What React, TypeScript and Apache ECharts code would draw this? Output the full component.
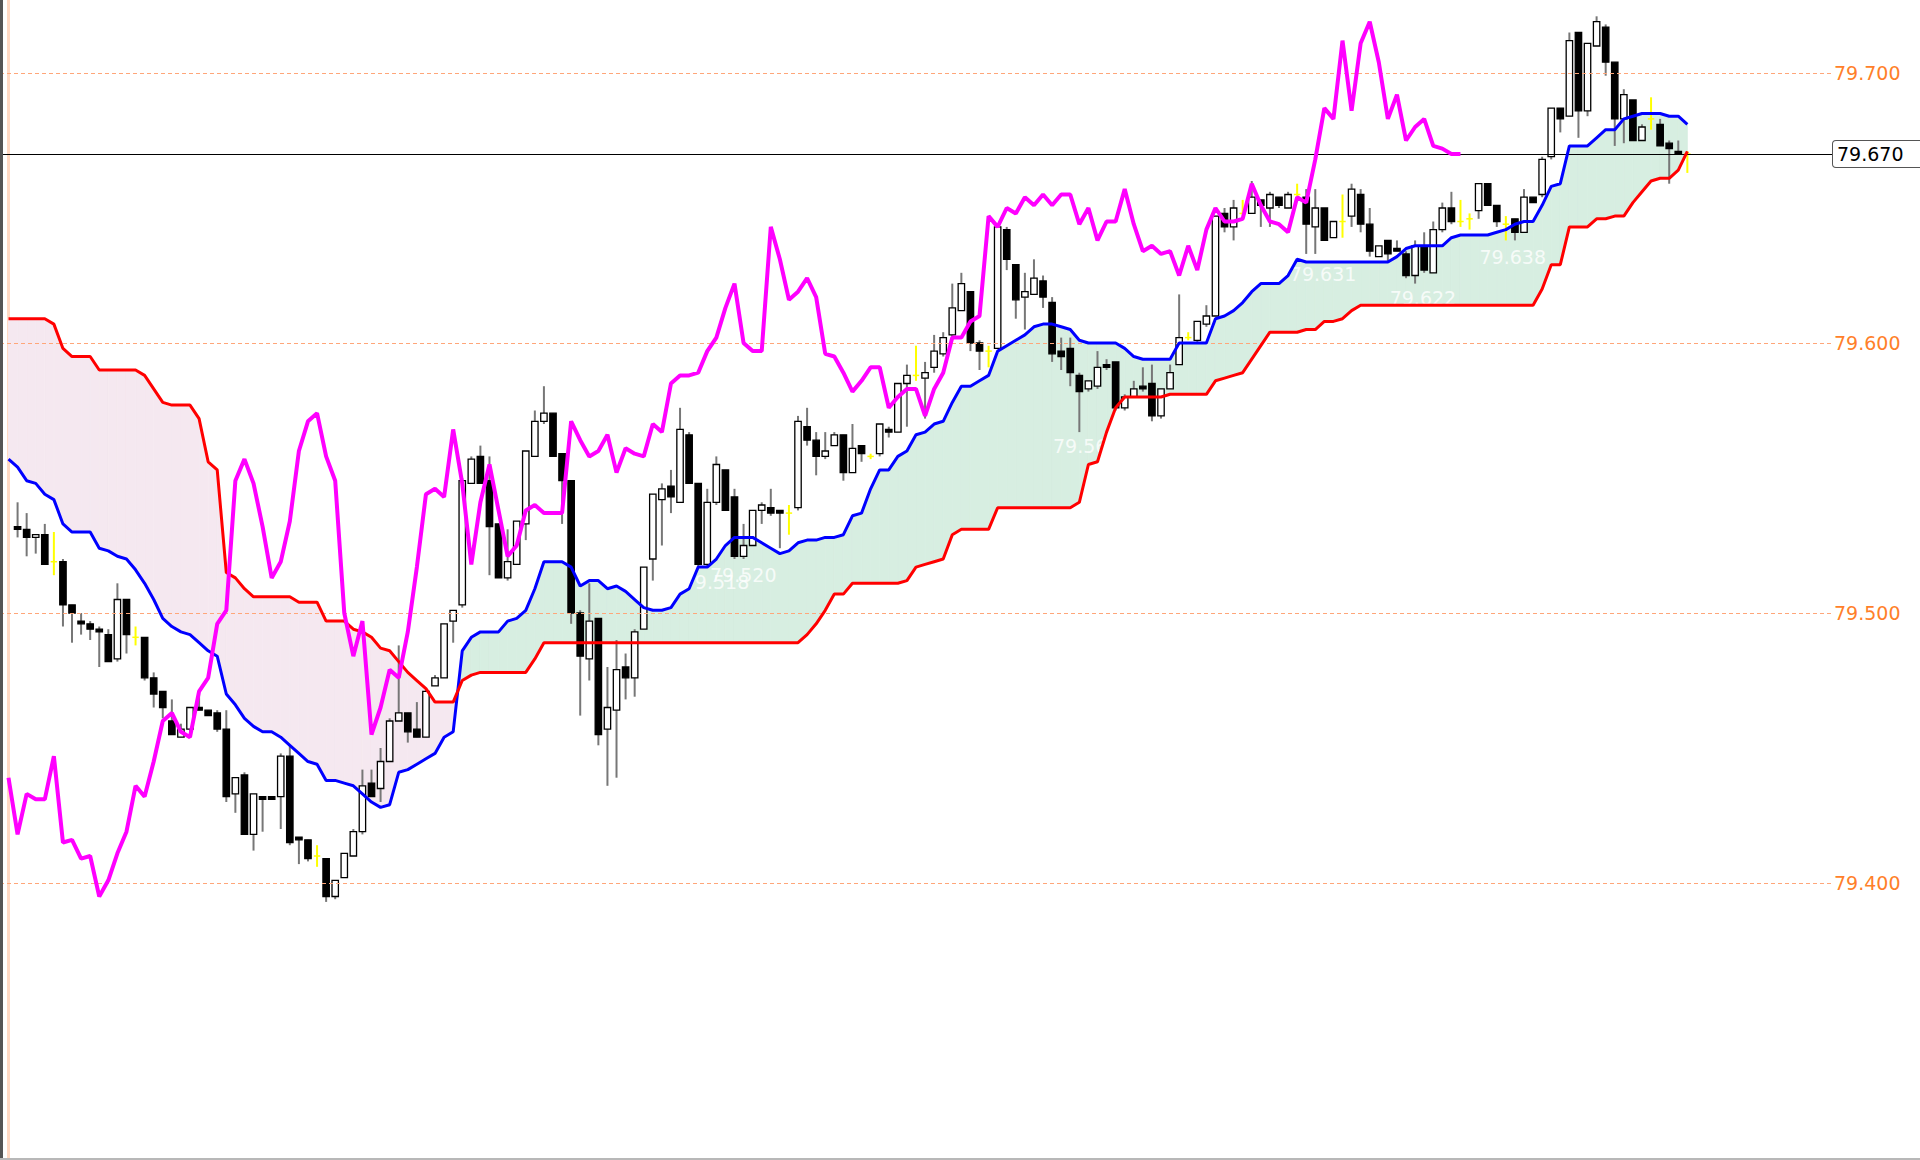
import React, { useEffect, useRef } from "react";
import * as echarts from "echarts";

// ---- Data (index 0 has no visible candle) ----
const opens = [null, 79.532, 79.531, 79.528, 79.529, 79.519, 79.519, 79.503, 79.497, 79.496,
  79.494, 79.492, 79.483, 79.505, 79.491, 79.491, 79.476, 79.471, 79.460, 79.454,
  79.457, 79.465, 79.464, 79.463, 79.457, 79.433, 79.440, 79.418, 79.432, 79.432,
  79.432, 79.447, 79.417, 79.416, 79.410, 79.409, 79.395, 79.402, 79.410, 79.419,
  79.437, 79.435, 79.445, 79.460, 79.463, 79.457, 79.454, 79.473, 79.476, 79.497,
  79.503, 79.548, 79.558, 79.549, 79.533, 79.513, 79.518, 79.533, 79.558, 79.571,
  79.574, 79.559, 79.549, 79.500, 79.483, 79.498, 79.457, 79.464, 79.480, 79.476,
  79.494, 79.520, 79.542, 79.547, 79.541, 79.566, 79.548, 79.518, 79.541, 79.553,
  79.543, 79.521, 79.525, 79.538, 79.539, 79.538, 79.537, 79.539, 79.569, 79.564,
  79.558, 79.562, 79.566, 79.552, 79.562, 79.558, 79.559, 79.568, 79.567, 79.585,
  79.588, 79.587, 79.591, 79.596, 79.603, 79.612, 79.619, 79.600, 79.597, 79.598,
  79.642, 79.629, 79.617, 79.618, 79.623, 79.615, 79.597, 79.598, 79.588, 79.583,
  79.584, 79.592, 79.593, 79.576, 79.580, 79.584, 79.585, 79.573, 79.583, 79.592,
  79.602, 79.601, 79.607, 79.610, 79.648, 79.643, 79.648, 79.648, 79.653, 79.650,
  79.654, 79.650, 79.655, 79.654, 79.643, 79.650, 79.639, 79.645, 79.647, 79.655,
  79.644, 79.632, 79.638, 79.635, 79.633, 79.625, 79.636, 79.626, 79.642, 79.650,
  79.645, 79.646, 79.649, 79.659, 79.651, 79.644, 79.646, 79.641, 79.654, 79.655,
  79.669, 79.687, 79.684, 79.715, 79.686, 79.710, 79.717, 79.704, 79.683, 79.690,
  79.675, 79.683, 79.681, 79.674, 79.671, 79.670];

const closes = [null, 79.531, 79.528, 79.529, 79.518, 79.519, 79.503, 79.500, 79.496, 79.494,
  79.493, 79.482, 79.505, 79.492, 79.491, 79.476, 79.470, 79.465, 79.455, 79.457,
  79.465, 79.464, 79.462, 79.457, 79.432, 79.439, 79.418, 79.433, 79.431, 79.431,
  79.447, 79.415, 79.416, 79.409, 79.410, 79.395, 79.401, 79.411, 79.419, 79.436,
  79.432, 79.445, 79.460, 79.463, 79.456, 79.454, 79.471, 79.476, 79.496, 79.501,
  79.549, 79.557, 79.548, 79.532, 79.513, 79.519, 79.534, 79.560, 79.571, 79.574,
  79.558, 79.549, 79.500, 79.484, 79.497, 79.455, 79.465, 79.479, 79.476, 79.493,
  79.517, 79.544, 79.546, 79.543, 79.568, 79.548, 79.518, 79.541, 79.555, 79.538,
  79.521, 79.525, 79.538, 79.540, 79.537, 79.537, 79.537, 79.571, 79.564, 79.558,
  79.560, 79.566, 79.552, 79.561, 79.559, 79.558, 79.570, 79.567, 79.585, 79.588,
  79.588, 79.589, 79.597, 79.602, 79.613, 79.622, 79.600, 79.597, 79.597, 79.643,
  79.631, 79.616, 79.619, 79.624, 79.617, 79.596, 79.595, 79.589, 79.582, 79.586,
  79.591, 79.591, 79.576, 79.580, 79.583, 79.583, 79.573, 79.583, 79.589, 79.602,
  79.602, 79.608, 79.610, 79.647, 79.643, 79.650, 79.648, 79.654, 79.651, 79.655,
  79.651, 79.655, 79.655, 79.644, 79.650, 79.638, 79.645, 79.645, 79.657, 79.644,
  79.634, 79.636, 79.633, 79.634, 79.625, 79.636, 79.627, 79.642, 79.650, 79.645,
  79.645, 79.646, 79.659, 79.651, 79.645, 79.644, 79.641, 79.654, 79.652, 79.668,
  79.687, 79.683, 79.712, 79.686, 79.711, 79.719, 79.704, 79.683, 79.692, 79.675,
  79.680, 79.683, 79.673, 79.672, 79.670, 79.670];

const lows = [null, 79.528, 79.521, 79.522, 79.518, 79.514, 79.495, 79.489, 79.492, 79.490,
  79.480, 79.482, 79.482, 79.485, 79.488, 79.475, 79.465, 79.461, 79.455, 79.454,
  79.456, 79.464, 79.462, 79.456, 79.430, 79.426, 79.418, 79.412, 79.419, 79.431,
  79.420, 79.414, 79.407, 79.408, 79.406, 79.393, 79.394, 79.402, 79.410, 79.418,
  79.432, 79.430, 79.445, 79.460, 79.452, 79.454, 79.454, 79.473, 79.476, 79.489,
  79.502, 79.548, 79.548, 79.514, 79.513, 79.512, 79.518, 79.527, 79.558, 79.570,
  79.558, 79.533, 79.496, 79.462, 79.475, 79.451, 79.436, 79.439, 79.468, 79.469,
  79.494, 79.512, 79.525, 79.537, 79.541, 79.548, 79.517, 79.517, 79.540, 79.538,
  79.520, 79.520, 79.525, 79.533, 79.536, 79.524, 79.529, 79.538, 79.562, 79.551,
  79.557, 79.562, 79.549, 79.552, 79.556, 79.557, 79.558, 79.565, 79.567, 79.569,
  79.586, 79.572, 79.589, 79.595, 79.602, 79.612, 79.597, 79.590, 79.591, 79.598,
  79.627, 79.609, 79.605, 79.618, 79.613, 79.593, 79.590, 79.584, 79.567, 79.582,
  79.583, 79.590, 79.575, 79.575, 79.580, 79.582, 79.571, 79.572, 79.583, 79.592,
  79.601, 79.600, 79.606, 79.610, 79.641, 79.638, 79.647, 79.648, 79.643, 79.643,
  79.650, 79.650, 79.654, 79.633, 79.633, 79.638, 79.639, 79.639, 79.643, 79.641,
  79.632, 79.632, 79.630, 79.634, 79.624, 79.622, 79.626, 79.626, 79.641, 79.644,
  79.643, 79.642, 79.646, 79.651, 79.643, 79.638, 79.638, 79.641, 79.652, 79.654,
  79.668, 79.678, 79.684, 79.676, 79.684, 79.710, 79.699, 79.673, 79.674, 79.675,
  79.675, 79.679, 79.673, 79.659, 79.670, 79.663];

const highs = [null, 79.541, 79.537, 79.529, 79.533, 79.530, 79.520, 79.503, 79.500, 79.497,
  79.495, 79.494, 79.511, 79.505, 79.495, 79.491, 79.478, 79.471, 79.468, 79.459,
  79.465, 79.470, 79.464, 79.464, 79.464, 79.439, 79.441, 79.433, 79.432, 79.432,
  79.448, 79.451, 79.417, 79.416, 79.414, 79.409, 79.401, 79.411, 79.420, 79.442,
  79.442, 79.450, 79.461, 79.488, 79.463, 79.467, 79.472, 79.477, 79.496, 79.501,
  79.550, 79.558, 79.562, 79.558, 79.533, 79.531, 79.534, 79.560, 79.575, 79.584,
  79.574, 79.559, 79.549, 79.501, 79.511, 79.498, 79.480, 79.490, 79.485, 79.494,
  79.517, 79.544, 79.548, 79.553, 79.576, 79.567, 79.548, 79.546, 79.558, 79.553,
  79.546, 79.533, 79.538, 79.541, 79.546, 79.538, 79.540, 79.573, 79.576, 79.567,
  79.567, 79.567, 79.566, 79.570, 79.562, 79.559, 79.570, 79.569, 79.585, 79.592,
  79.599, 79.593, 79.603, 79.604, 79.622, 79.626, 79.619, 79.601, 79.599, 79.644,
  79.643, 79.629, 79.626, 79.631, 79.625, 79.617, 79.602, 79.602, 79.589, 79.586,
  79.597, 79.594, 79.593, 79.581, 79.586, 79.591, 79.592, 79.583, 79.592, 79.618,
  79.604, 79.608, 79.614, 79.647, 79.650, 79.653, 79.653, 79.660, 79.653, 79.656,
  79.654, 79.656, 79.659, 79.657, 79.657, 79.650, 79.645, 79.655, 79.659, 79.657,
  79.650, 79.636, 79.638, 79.638, 79.634, 79.638, 79.641, 79.645, 79.652, 79.656,
  79.653, 79.648, 79.659, 79.659, 79.651, 79.647, 79.646, 79.657, 79.654, 79.669,
  79.687, 79.687, 79.715, 79.715, 79.711, 79.721, 79.718, 79.704, 79.694, 79.690,
  79.681, 79.691, 79.683, 79.675, 79.675, 79.671];

// Blue cloud boundary (Senkou Span A)
const spanA = [79.557, 79.554, 79.549, 79.548, 79.544, 79.542, 79.533, 79.530, 79.530, 79.530,
  79.524, 79.523, 79.521, 79.520, 79.516, 79.511, 79.505, 79.498, 79.495, 79.493,
  79.492, 79.489, 79.486, 79.484, 79.470, 79.466, 79.461, 79.458, 79.456, 79.456,
  79.454, 79.451, 79.448, 79.445, 79.444, 79.438, 79.438, 79.437, 79.436, 79.433,
  79.430, 79.428, 79.429, 79.441, 79.442, 79.444, 79.446, 79.448, 79.454, 79.456,
  79.486, 79.491, 79.493, 79.493, 79.493, 79.497, 79.498, 79.501, 79.509, 79.519,
  79.519, 79.519, 79.517, 79.510, 79.512, 79.512, 79.509, 79.510, 79.508, 79.505,
  79.502, 79.501, 79.501, 79.502, 79.507, 79.509, 79.517, 79.517, 79.520, 79.525,
  79.528, 79.528, 79.528, 79.526, 79.524, 79.522, 79.523, 79.526, 79.527, 79.527,
  79.528, 79.528, 79.529, 79.536, 79.537, 79.546, 79.553, 79.553, 79.558, 79.560,
  79.566, 79.567, 79.570, 79.571, 79.578, 79.584, 79.584, 79.586, 79.588, 79.597,
  79.599, 79.601, 79.603, 79.606, 79.607, 79.607, 79.606, 79.605, 79.601, 79.600,
  79.600, 79.600, 79.600, 79.598, 79.595, 79.594, 79.594, 79.594, 79.594, 79.600,
  79.600, 79.600, 79.600, 79.609, 79.610, 79.612, 79.615, 79.619, 79.622, 79.622,
  79.622, 79.625, 79.631, 79.630, 79.630, 79.630, 79.630, 79.630, 79.630, 79.630,
  79.630, 79.630, 79.630, 79.632, 79.635, 79.636, 79.636, 79.636, 79.636, 79.639,
  79.640, 79.640, 79.640, 79.640, 79.641, 79.642, 79.644, 79.645, 79.645, 79.651,
  79.658, 79.659, 79.673, 79.673, 79.673, 79.676, 79.679, 79.679, 79.683, 79.684,
  79.685, 79.685, 79.685, 79.684, 79.684, 79.681];

// Red cloud boundary (Senkou Span B)
const spanB = [79.609, 79.609, 79.609, 79.609, 79.609, 79.607, 79.598, 79.595, 79.595, 79.595,
  79.590, 79.590, 79.590, 79.590, 79.590, 79.588, 79.583, 79.578, 79.577, 79.577,
  79.577, 79.572, 79.556, 79.553, 79.515, 79.513, 79.509, 79.506, 79.506, 79.506,
  79.506, 79.506, 79.504, 79.504, 79.504, 79.497, 79.497, 79.497, 79.494, 79.493,
  79.491, 79.487, 79.486, 79.482, 79.478, 79.475, 79.472, 79.467, 79.467, 79.467,
  79.475, 79.477, 79.478, 79.478, 79.478, 79.478, 79.478, 79.478, 79.483, 79.489,
  79.489, 79.489, 79.489, 79.489, 79.489, 79.489, 79.489, 79.489, 79.489, 79.489,
  79.489, 79.489, 79.489, 79.489, 79.489, 79.489, 79.489, 79.489, 79.489, 79.489,
  79.489, 79.489, 79.489, 79.489, 79.489, 79.489, 79.489, 79.489, 79.492, 79.496,
  79.501, 79.507, 79.507, 79.511, 79.511, 79.511, 79.511, 79.511, 79.511, 79.512,
  79.517, 79.518, 79.519, 79.520, 79.529, 79.531, 79.531, 79.531, 79.531, 79.539,
  79.539, 79.539, 79.539, 79.539, 79.539, 79.539, 79.539, 79.539, 79.541, 79.555,
  79.556, 79.567, 79.576, 79.580, 79.580, 79.580, 79.580, 79.580, 79.581, 79.581,
  79.581, 79.581, 79.581, 79.586, 79.587, 79.588, 79.589, 79.594, 79.599, 79.604,
  79.604, 79.604, 79.604, 79.605, 79.605, 79.608, 79.608, 79.609, 79.612, 79.614,
  79.614, 79.614, 79.614, 79.614, 79.614, 79.614, 79.614, 79.614, 79.614, 79.614,
  79.614, 79.614, 79.614, 79.614, 79.614, 79.614, 79.614, 79.614, 79.614, 79.620,
  79.629, 79.629, 79.643, 79.643, 79.643, 79.646, 79.646, 79.647, 79.647, 79.652,
  79.656, 79.660, 79.661, 79.661, 79.664, 79.671];

// Lagging line: closes plotted this many bars back
const CHIKOU_SHIFT = 25;

const yTickValues = [79.4, 79.5, 79.6, 79.7];
const lastPrice = 79.67;

// White value labels drawn inside the cloud
const labelTexts = ["79.518", "79.520", "79.567", "79.631", "79.622", "79.638"];
const labelIndex = [74.3, 77.3, 115.1, 141.2, 152.2, 162.1];
const labelPrice = [79.5115, 79.5141, 79.5617, 79.6256, 79.6166, 79.6320];

// ---- Layout ----
const X_MIN = -0.937;
const X_MAX = 201.05;
const Y_MIN = 79.29815;
const Y_MAX = 79.72704;

const GREEN = "#D7EEE1";
const PINK = "#F5E8F0";
const FONT = "DejaVu Sans";

export default function App() {
  const ref = useRef<HTMLDivElement>(null);

  useEffect(() => {
    if (!ref.current) return;
    const chart = echarts.init(ref.current, null, { renderer: "svg" });

    const cloudData = spanA.slice(0, -1).map((a, i) => [i, a, spanB[i], spanA[i + 1], spanB[i + 1]]);
    const candleData: number[][] = [];
    for (let i = 0; i < closes.length; i++) {
      if (closes[i] == null) continue;
      candleData.push([i, opens[i] as number, closes[i] as number, lows[i] as number, highs[i] as number]);
    }
    const chikou = (closes.slice(CHIKOU_SHIFT) as number[]).map((c, k) => [k, c]);

    const option: any = {
      animation: false,
      backgroundColor: "#ffffff",
      grid: { left: 0, right: 87, top: 0, bottom: 2, containLabel: false, outerBoundsMode: "none" },
      xAxis: {
        type: "value",
        min: X_MIN,
        max: X_MAX,
        axisLine: { show: false },
        axisTick: { show: false },
        axisLabel: { show: false },
        splitLine: { show: false },
      },
      yAxis: {
        type: "value",
        position: "right",
        min: Y_MIN,
        max: Y_MAX,
        axisLine: { show: true, lineStyle: { color: "#FFD9C4", width: 3 } },
        axisTick: { show: false },
        axisLabel: { show: false },
        splitLine: { show: false },
      },
      graphic: [
        { type: "rect", z: 100, shape: { x: 0, y: 0, width: 3, height: 1160 }, style: { fill: "#555555" } },
        { type: "rect", z: 100, shape: { x: 0, y: 1158, width: 1920, height: 2 }, style: { fill: "#B8B8B8" } },
      ],
      series: [
        {
          type: "custom",
          name: "cloud",
          z: 1,
          silent: true,
          data: cloudData,
          encode: { x: 0, y: [1, 2, 3, 4] },
          renderItem: (params: any, api: any) => {
            const i = api.value(0);
            const a0 = api.value(1), b0 = api.value(2), a1 = api.value(3), b1 = api.value(4);
            const pA0 = api.coord([i, a0]);
            const pB0 = api.coord([i, b0]);
            const pA1 = api.coord([i + 1, a1]);
            const pB1 = api.coord([i + 1, b1]);
            const d0 = a0 - b0, d1 = a1 - b1;
            const col = (d: number) => (d >= 0 ? GREEN : PINK);
            const poly = (pts: number[][], c: string) => ({
              type: "polygon",
              shape: { points: pts },
              style: { fill: c, stroke: c, lineWidth: 0.8 },
            });
            if (d0 * d1 >= 0) {
              return poly([pA0, pA1, pB1, pB0], col(d0 + d1));
            }
            const t = d0 / (d0 - d1);
            const pX = api.coord([i + t, a0 + t * (a1 - a0)]);
            return {
              type: "group",
              children: [poly([pA0, pX, pB0], col(d0)), poly([pX, pA1, pB1], col(d1))],
            };
          },
        },
        {
          type: "line",
          name: "grid",
          z: 2,
          data: [],
          silent: true,
          markLine: {
            silent: true,
            symbol: ["none", "none"],
            animation: false,
            lineStyle: { type: [4, 3], color: "#FFA679", width: 1 },
            label: {
              show: true,
              position: "end",
              distance: 1,
              formatter: (p: any) => Number(p.value).toFixed(3),
              color: "#FF7F2A",
              fontSize: 19,
              fontFamily: FONT,
            },
            data: yTickValues.map((v) => ({ yAxis: v })),
          },
        },
        {
          type: "scatter",
          name: "labels",
          z: 3,
          silent: true,
          symbolSize: 0,
          data: labelTexts.map((t, k) => [labelIndex[k], labelPrice[k], t]),
          label: {
            show: true,
            position: "right",
            distance: 0,
            formatter: (p: any) => p.value[2],
            color: "#ffffff",
            fontSize: 19,
            fontFamily: FONT,
          },
        },
        {
          type: "custom",
          name: "candles",
          z: 4,
          silent: true,
          data: candleData,
          encode: { x: 0, y: [1, 2, 3, 4] },
          renderItem: (params: any, api: any) => {
            const i = api.value(0);
            const o = api.value(1), c = api.value(2), l = api.value(3), h = api.value(4);
            const pO = api.coord([i, o]);
            const pC = api.coord([i, c]);
            const pL = api.coord([i, l]);
            const pH = api.coord([i, h]);
            const x = pO[0];
            const half = 3.2;
            if (o === c) {
              const yc = "#FFFF00";
              return {
                type: "group",
                children: [
                  { type: "line", shape: { x1: x, y1: pH[1], x2: x, y2: pL[1] }, style: { stroke: yc, lineWidth: 2 } },
                  { type: "line", shape: { x1: x - half, y1: pO[1], x2: x + half, y2: pO[1] }, style: { stroke: yc, lineWidth: 1.5 } },
                ],
              };
            }
            const top = Math.min(pO[1], pC[1]);
            const bh = Math.max(1.5, Math.abs(pC[1] - pO[1]));
            const up = c > o;
            return {
              type: "group",
              children: [
                { type: "line", shape: { x1: x, y1: pH[1], x2: x, y2: pL[1] }, style: { stroke: "#777777", lineWidth: 2 } },
                {
                  type: "rect",
                  shape: { x: x - half, y: top, width: half * 2, height: bh },
                  style: { fill: up ? "#ffffff" : "#000000", stroke: "#000000", lineWidth: 1.3 },
                },
              ],
            };
          },
        },
        {
          type: "line",
          name: "spanA",
          z: 5,
          silent: true,
          showSymbol: false,
          data: spanA.map((v, i) => [i, v]),
          lineStyle: { color: "#0000FF", width: 3 },
        },
        {
          type: "line",
          name: "spanB",
          z: 5,
          silent: true,
          showSymbol: false,
          data: spanB.map((v, i) => [i, v]),
          lineStyle: { color: "#FF0000", width: 3 },
        },
        {
          type: "line",
          name: "chikou",
          z: 6,
          silent: true,
          showSymbol: false,
          data: chikou,
          lineStyle: { color: "#FF00FF", width: 4 },
        },
        {
          type: "line",
          name: "price",
          z: 7,
          data: [],
          silent: true,
          markLine: {
            silent: true,
            symbol: ["none", "none"],
            animation: false,
            lineStyle: { type: "solid", color: "#000000", width: 1 },
            label: {
              show: true,
              position: "end",
              distance: 0,
              formatter: () => lastPrice.toFixed(3),
              color: "#000000",
              fontSize: 19,
              fontFamily: FONT,
              backgroundColor: "#ffffff",
              borderColor: "#555555",
              borderWidth: 1,
              borderRadius: 3,
              padding: [4, 30, 3, 4],
            },
            data: [{ yAxis: lastPrice }],
          },
        },
      ],
    };

    chart.setOption(option);
    return () => chart.dispose();
  }, []);

  return (
    <div
      ref={ref}
      style={{ position: "fixed", left: 0, top: 0, width: 1920, height: 1160, background: "#ffffff" }}
    />
  );
}
